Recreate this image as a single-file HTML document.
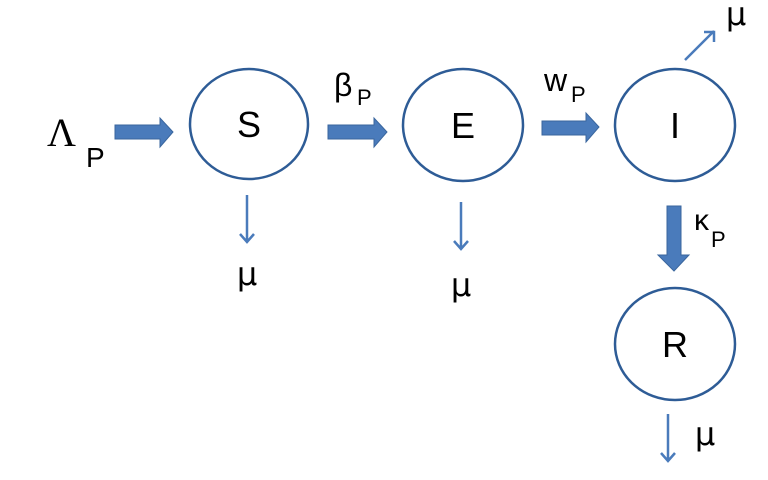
<!DOCTYPE html>
<html><head><style>body{margin:0;background:#fff}</style></head><body>
<svg width="768" height="475" xmlns="http://www.w3.org/2000/svg" font-family="Liberation Sans, DejaVu Sans, sans-serif">
<g fill="#fff" stroke="#2e5c96" stroke-width="2.5">
<ellipse cx="249" cy="124" rx="59" ry="55"/>
<ellipse cx="463" cy="125" rx="60" ry="56"/>
<ellipse cx="675" cy="125" rx="60" ry="56"/>
<ellipse cx="675" cy="344" rx="60" ry="56"/>
</g>
<g fill="#4a7bbb" stroke="#3a669e" stroke-width="1">
<polygon points="115,125 160,125 160,118 173,132 160,147 160,139 115,139"/>
<polygon points="328,125 374,125 374,118 387,132 374,147 374,139 328,139"/>
<polygon points="542,121 586,121 586,113 599,127 586,142 586,135 542,135"/>
<polygon points="667,206 681,206 681,255 689,255 674,271 658,255 667,255"/>
</g>
<g stroke="#4a7bbb" stroke-width="2.5" fill="none">
<path d="M247 195V242M240 234l7 8 7-8"/>
<path d="M461 202V249M454 241l7 8 7-8"/>
<path d="M668 414V461M661 453l7 8 7-8"/>
<path d="M685 60L714 31M704 32h10v10"/>
</g>
<g font-size="36" text-anchor="middle" fill="#000">
<text x="249" y="137">S</text>
<text x="463" y="138">E</text>
<text x="675" y="138">I</text>
<text x="675" y="357">R</text>
</g>
<text x="47" y="146" font-family="Liberation Serif, serif" font-size="40">Λ</text>
<text x="86" y="167" font-size="28">P</text>
<text x="334" y="96" font-size="32">β</text>
<text x="357" y="105" font-size="22">P</text>
<text x="544" y="91" font-size="32">w</text>
<text x="571" y="102" font-size="22">P</text>
<text x="694" y="230" font-size="30">κ</text>
<text x="711" y="247" font-size="22">P</text>
<g font-size="32" text-anchor="middle" font-family="DejaVu Sans, sans-serif">
<text x="247" y="285">μ</text>
<text x="461" y="296">μ</text>
<text x="736" y="25">μ</text>
<text x="705" y="445">μ</text>
</g>
</svg>
</body></html>
